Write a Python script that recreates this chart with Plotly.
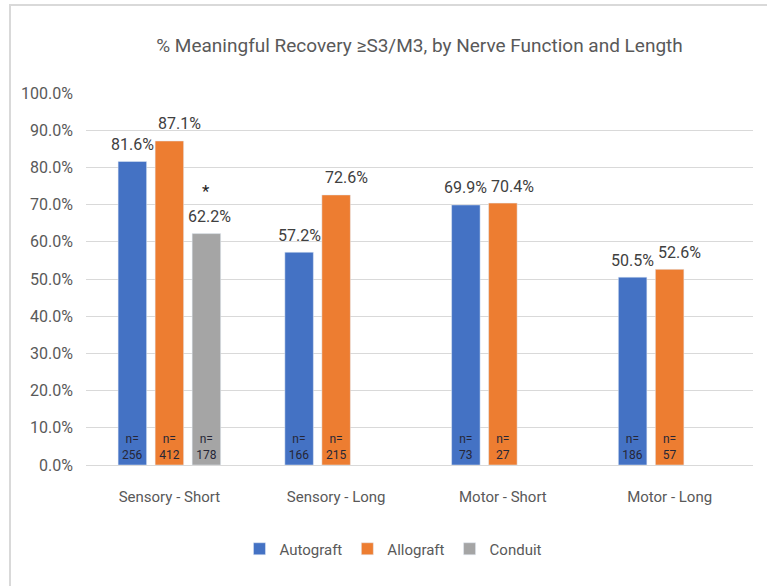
import plotly.graph_objects as go

categories = ["Sensory - Short", "Sensory - Long", "Motor - Short", "Motor - Long"]
series_names = ["Autograft", "Allograft", "Conduit"]
autograft = [0.816, 0.572, 0.699, 0.505]
allograft = [0.871, 0.726, 0.704, 0.526]
conduit = [0.622, None, None, None]
autograft_n = [256, 166, 73, 186]
allograft_n = [412, 215, 27, 57]
conduit_n = [178, None, None, None]
starred = [(2, 0)]  # (series index, category index) marked with *

values = [autograft, allograft, conduit]
counts = [autograft_n, allograft_n, conduit_n]
colors = ["#4472C4", "#ED7D31", "#A5A5A5"]
label_nudge = [0, 10, 3]  # horizontal label nudge per series (px), as in the source

W, H = 767, 586
ML, MR, MT, MB = 86, 14, 93, 121
BARGAP, BARGROUPGAP = 0.334, 0.23
FONT = "Roboto, sans-serif"

fig = go.Figure()
for name, vals, ns, col in zip(series_names, values, counts, colors):
    fig.add_trace(go.Bar(
        name=name, x=categories, y=vals, marker_color=col,
        text=[f"n=<br>{n}" if n is not None else "" for n in ns],
        textposition="inside", insidetextanchor="start",
        textfont=dict(family=FONT, size=12, color="#262636"),
        textangle=0, cliponaxis=False,
    ))

plot_w = W - ML - MR
slot_px = plot_w / len(categories) * (1 - BARGAP) / len(series_names)
annotations = []
for i, vals in enumerate(values):
    for j, v in enumerate(vals):
        if v is None:
            continue
        annotations.append(dict(
            x=categories[j], y=v, xref="x", yref="y",
            text=f"{v*100:.1f}%", showarrow=False,
            xshift=(i - 1) * slot_px + label_nudge[i], yshift=17, yanchor="middle",
            font=dict(family=FONT, size=16, color="#404040"),
        ))
for i, j in starred:
    annotations.append(dict(
        x=categories[j], y=values[i][j], xref="x", yref="y",
        text="*", showarrow=False,
        xshift=(i - 1) * slot_px, yshift=43, yanchor="middle",
        font=dict(family=FONT, size=17, color="#222222"),
    ))

fig.update_layout(
    width=W, height=H,
    margin=dict(l=ML, r=MR, t=MT, b=MB, autoexpand=False),
    paper_bgcolor="white", plot_bgcolor="white",
    barmode="group", bargap=BARGAP, bargroupgap=BARGROUPGAP,
    title=dict(
        text="% Meaningful Recovery ≥S3/M3, by Nerve Function and Length",
        x=0.5, xref="paper", y=1 - 45 / H, yref="container", yanchor="middle",
        font=dict(family=FONT, size=19, color="#595959"),
    ),
    font=dict(family=FONT, color="#595959"),
    yaxis=dict(
        range=[0, 1], tickformat=".1%", dtick=0.1, showgrid=True,
        gridcolor="#D9D9D9", gridwidth=1, zeroline=False, showline=False,
        ticklabelstandoff=12, automargin=False,
        tickfont=dict(family=FONT, size=16, color="#595959"),
    ),
    xaxis=dict(
        showline=True, linecolor="#D9D9D9", linewidth=1,
        ticks="", ticklabelstandoff=18, automargin=False,
        tickfont=dict(family=FONT, size=15, color="#595959"),
    ),
    legend=dict(
        orientation="h", x=0.513, xref="container", xanchor="center",
        y=1 - 549 / H, yref="container", yanchor="middle",
        font=dict(family=FONT, size=15, color="#595959"),
        itemwidth=30, traceorder="normal",
    ),
    annotations=annotations,
    shapes=[dict(
        type="rect", xref="paper", yref="paper",
        x0=(10 - ML) / plot_w, x1=(W + 20 - ML) / plot_w,
        y0=-(MB + 20) / (H - MT - MB), y1=1 + (MT - 5) / (H - MT - MB),
        line=dict(color="#D9D9D9", width=2), layer="below",
    )],
)

fig.write_html("out.html", config={"displayModeBar": False},
               post_script="document.body.style.margin='0';")
